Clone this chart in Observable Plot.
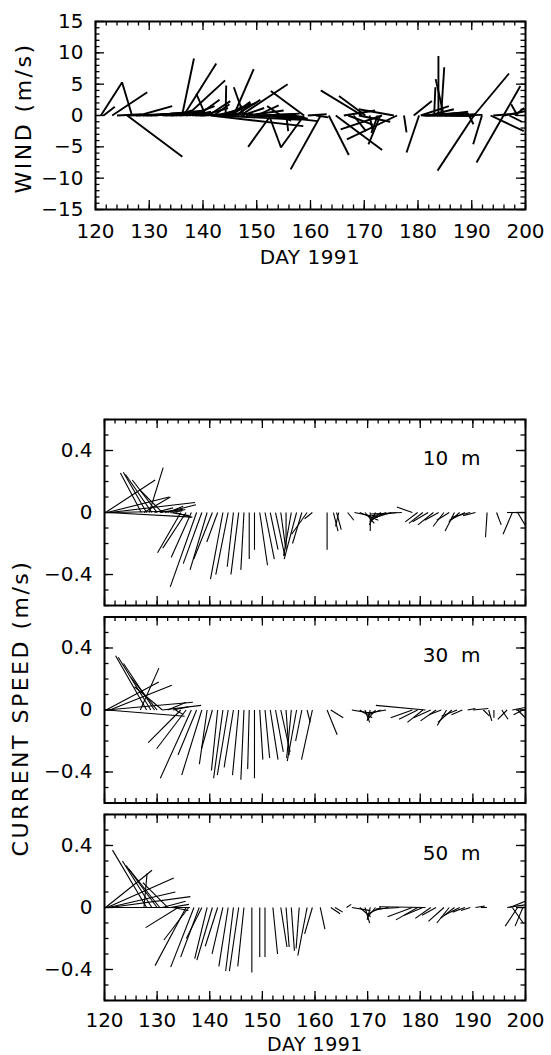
<!DOCTYPE html>
<html><head><meta charset="utf-8">
<script src="https://cdn.jsdelivr.net/npm/d3@7"></script>
<script src="https://cdn.jsdelivr.net/npm/@observablehq/plot@0.6"></script>
<style>
body{margin:0;background:#fff;}
#wrap{position:relative;width:551px;height:1055px;font-family:"DejaVu Sans",sans-serif;color:#000;overflow:hidden;}
#wrap svg{display:block;}
.lbl{position:absolute;white-space:pre;line-height:1;transform:translate(-50%,-50%);}
.rot{transform:translate(-50%,-50%) rotate(-90deg);}
</style></head><body><div id="wrap"></div>
<script>
// ---------- data: [day, u (east, m/s), v (north, m/s)] ----------
const dayDomain = [120, 200];
const dayTicks = [120, 130, 140, 150, 160, 170, 180, 190, 200];
const windDomain = [-15, 15];
const windTicks = [-15, -10, -5, 0, 5, 10, 15];
const currentDomain = [-0.6, 0.6];
const currentTicks = [-0.4, 0, 0.4];
const depths = ["10 m", "30 m", "50 m"];

const windSticks = [
[121.0,3.4,5.3],[121.5,1.8,1.4],[123.1,5.6,3.7],[124.0,4.0,0.2],[125.9,8.8,-6.6],[126.8,-1.6,5.3],
[126.0,4.5,0.1],[127.5,6.0,0.3],[128.1,5.3,1.5],[128.8,6.5,0.2],[129.5,7.0,0.5],[130.2,5.0,0.4],
[131.0,8.0,0.8],[132.5,6.0,0.6],[133.0,4.0,0.1],[134.0,5.0,0.3],[135.0,2.5,0.8],[135.5,3.5,0.2],
[136.1,1.9,9.1],[136.4,5.2,8.3],[136.8,3.0,0.4],[137.0,6.1,5.6],[137.5,4.0,1.5],[138.0,3.0,0.6],
[138.5,5.0,0.1],[139.0,3.5,2.5],[139.5,6.0,0.3],[140.0,4.0,1.2],[140.5,-1.5,3.5],[141.0,3.5,2.3],
[141.4,14.8,-1.7],[142.0,2.5,1.8],[142.5,4.0,1.0],[143.0,13.0,-0.7],[143.5,5.5,2.0],[144.0,4.5,0.3],
[144.2,0.1,4.8],[145.0,2.0,1.5],[145.3,3.0,2.2],[145.7,3.2,7.4],[146.0,4.0,2.5],[146.5,2.0,2.0],
[147.0,7.5,5.0],[147.3,3.5,1.2],[147.6,-1.6,4.5],[148.0,6.0,0.8],[148.5,5.0,-0.2],[149.2,7.0,0.2],
[150.0,3.5,1.6],[150.5,5.0,-0.3],[151.0,6.0,0.3],[151.5,6.0,-0.5],[152.0,8.0,-0.9],[152.3,1.9,-5.1],
[152.6,-3.6,-5.0],[153.0,5.0,-0.3],[153.5,2.5,-0.8],[154.5,-2.2,1.5],[155.0,3.0,-0.2],[155.5,0.3,-2.5],
[156.0,3.0,-0.5],[157.0,2.0,-0.6],[158.8,-5.3,3.9],[158.8,-3.7,-5.1],[159.5,3.0,0.2],
[161.0,2.0,-0.3],[161.9,-4.8,-8.6],[163.4,3.2,-6.3],[164.7,7.4,-5.5],[166.2,5.0,0.8],[167.0,4.0,-1.5],
[168.0,2.0,-2.5],[169.0,5.0,-1.0],[169.6,-6.6,4.0],[170.2,-4.2,3.1],[171.0,0.5,-2.5],[172.5,-1.0,-2.8],
[173.0,-1.9,-4.6],[173.3,-6.6,-2.2],[175.5,-5.6,1.0],[176.1,-8.0,-3.8],[177.4,0.4,-2.7],[179.2,2.9,2.3],
[180.2,-2.0,-5.9],[180.5,4.5,1.5],[180.8,6.0,0.0],[181.2,7.0,0.3],[181.5,5.0,0.4],[182.0,4.0,1.0],
[182.5,6.0,0.2],[183.0,0.2,4.5],[183.5,5.0,0.6],[183.8,0.0,9.5],[184.0,5.0,0.1],[184.3,0.5,7.7],
[184.8,-1.3,5.8],[185.0,6.0,0.1],[186.0,4.0,0.2],[186.5,3.5,0.0],[187.0,3.0,-0.1],[187.5,2.5,0.1],
[188.0,2.0,0.1],[189.5,0.7,-1.4],[190.4,-5.8,-8.8],[190.4,5.6,6.7],[191.9,-1.4,-4.6],
[193.5,5.3,-2.5],[194.0,4.0,0.3],[195.9,2.7,4.7],[195.9,-4.3,-7.5],[196.0,4.0,0.8],[197.0,2.0,-1.0],
[198.0,1.5,1.2],[198.5,-1.0,1.8]
];

const current10m = [
[120.2,0.32,0.21],[120.5,0.40,0.10],[120.5,0.55,-0.03],[121.0,0.55,0.065],[121.5,0.45,0.01],
[127.0,-0.135,0.255],[127.5,0.17,0.10],[128.0,-0.15,0.26],[128.5,0.09,0.29],[129.0,-0.17,0.245],
[129.5,0.12,0.03],[130.0,-0.16,0.21],[130.5,0.15,0.02],[131.0,-0.15,0.15],[131.5,0.20,0.05],
[132.0,0.10,0.04],[132.5,0.12,-0.02],[133.0,0.08,0.02],[133.5,0.10,-0.03],
[134.5,-0.15,-0.26],[135.5,-0.15,-0.23],[136.5,-0.13,-0.29],[137.5,-0.17,-0.48],[138.5,-0.12,-0.33],
[139.5,-0.11,-0.37],[140.5,-0.12,-0.30],[141.5,-0.07,-0.19],[142.5,-0.08,-0.43],[143.5,-0.08,-0.40],
[144.5,-0.04,-0.35],[145.5,-0.05,-0.40],[146.5,-0.02,-0.37],[147.5,0.0,-0.30],[148.5,0.0,-0.24],
[149.5,0.05,-0.34],[150.5,0.06,-0.30],[151.5,0.05,-0.24],[152.5,0.06,-0.28],[153.5,0.03,-0.22],
[154.5,0.0,-0.24],[155.5,-0.05,-0.28],[156.5,-0.08,-0.30],[157.5,-0.06,-0.20],[158.5,-0.10,-0.14],
[159.5,-0.05,-0.04],[162.3,0.0,-0.24],[163.5,0.03,-0.12],[164.1,0.03,-0.11],[164.5,-0.02,-0.09],
[166.2,0.04,-0.05],[167.5,0.15,-0.03],[168.5,0.12,-0.05],[169.5,0.06,-0.07],[170.5,0.0,-0.12],
[171.5,-0.04,-0.08],[172.5,-0.07,-0.06],[173.5,-0.10,-0.05],[174.5,-0.13,-0.04],[175.5,-0.16,-0.02],
[176.5,-0.20,-0.01],[178.5,-0.10,0.035],[179.5,-0.08,-0.06],[180.5,-0.09,-0.07],[181.5,-0.10,-0.06],
[182.5,-0.10,-0.08],[183.5,-0.09,-0.05],[184.5,-0.07,-0.09],[185.5,-0.08,-0.05],[186.5,-0.06,-0.12],
[187.5,-0.07,-0.06],[188.5,-0.10,-0.05],[189.5,-0.12,-0.03],[190.5,-0.08,-0.02],[192.7,-0.01,-0.16],
[194.5,0.03,-0.08],[196.5,0.10,0.0],[197.5,-0.06,-0.14],[198.5,0.06,-0.10]
];

const current30m = [
[120.3,0.34,0.18],[121.0,0.40,0.16],[120.3,0.56,0.05],[120.5,0.50,-0.04],[126.8,0.12,0.27],
[128.0,-0.20,0.35],[128.8,-0.21,0.34],[129.5,-0.20,0.30],[130.0,-0.17,0.21],[131.0,-0.18,0.15],
[131.0,0.25,0.03],[132.0,0.12,0.05],[133.0,0.10,0.02],[133.5,0.05,-0.03],
[134.5,-0.21,-0.21],[135.5,-0.19,-0.25],[136.5,-0.20,-0.44],[137.5,-0.12,-0.29],[138.5,-0.13,-0.42],
[139.5,-0.05,-0.35],[140.5,-0.07,-0.25],[141.5,-0.04,-0.39],[142.5,-0.06,-0.44],[143.5,-0.07,-0.42],
[144.5,-0.06,-0.37],[145.5,-0.04,-0.42],[146.5,-0.02,-0.45],[147.5,-0.01,-0.38],[148.5,0.0,-0.44],
[149.5,0.02,-0.32],[150.5,0.03,-0.31],[151.5,0.05,-0.32],[152.5,0.05,-0.27],[153.5,0.06,-0.27],
[154.5,0.02,-0.29],[155.5,-0.03,-0.31],[156.5,-0.06,-0.33],[157.5,-0.04,-0.20],[158.5,0.02,-0.08],
[159.5,-0.07,-0.32],[162.3,0.065,-0.16],[163.0,0.08,-0.05],[167.0,0.12,-0.02],[168.5,0.08,-0.05],
[169.5,0.03,-0.08],[170.5,-0.02,-0.07],[171.5,-0.05,-0.06],[172.5,-0.08,-0.03],[173.5,-0.12,-0.02],
[178.5,-0.14,-0.05],[179.5,-0.12,-0.06],[180.5,-0.10,-0.08],[181.0,-0.32,0.03],[182.0,-0.11,-0.05],
[183.0,-0.10,-0.07],[184.0,-0.08,-0.03],[185.0,-0.06,-0.10],[186.0,-0.09,-0.08],[187.0,-0.10,-0.04],
[188.0,-0.07,-0.03],[189.0,0.05,0.01],[190.0,0.10,0.01],[192.0,0.04,-0.04],[193.0,0.02,-0.07],
[194.0,0.0,-0.05],[195.5,0.04,-0.06],[196.5,-0.06,-0.06],[197.5,0.10,0.02],[198.5,0.05,-0.05],
[199.5,-0.06,-0.03]
];

const current50m = [
[120.2,0.30,0.24],[120.5,0.43,0.19],[120.8,0.43,0.10],[121.0,0.52,0.07],[121.5,0.50,0.0],
[127.5,0.02,0.22],[128.0,-0.22,0.37],[129.0,-0.19,0.30],[130.0,-0.20,0.27],[130.5,-0.20,0.25],
[132.0,-0.16,0.16],[131.0,0.15,0.04],[132.5,0.12,0.02],[133.0,0.10,-0.02],[134.0,-0.21,-0.13],
[135.5,-0.20,-0.375],[136.0,-0.16,-0.21],[137.0,-0.15,-0.385],[138.0,-0.12,-0.32],[138.5,-0.10,-0.20],
[139.5,-0.08,-0.33],[140.5,-0.10,-0.34],[141.5,-0.08,-0.25],[142.5,-0.07,-0.30],[143.5,-0.06,-0.38],
[144.5,-0.05,-0.41],[145.5,-0.06,-0.41],[146.5,-0.04,-0.38],[148.0,0.0,-0.42],[149.5,0.0,-0.32],
[150.5,0.0,-0.32],[152.0,0.03,-0.30],[153.5,0.04,-0.255],[154.5,0.02,-0.255],[155.5,0.02,-0.28],
[157.0,-0.02,-0.265],[158.5,-0.06,-0.31],[159.5,-0.05,-0.17],[161.0,0.03,-0.14],[163.0,0.06,-0.04],
[163.8,0.05,-0.03],[166.0,0.03,0.02],[167.0,0.12,-0.02],[168.5,0.07,-0.06],[169.5,0.03,-0.10],
[170.5,-0.02,-0.08],[171.5,-0.05,-0.06],[172.5,-0.08,-0.04],[174.0,-0.10,-0.02],[176.0,-0.15,-0.01],
[178.5,-0.16,-0.06],[179.5,-0.14,-0.08],[180.5,-0.12,-0.05],[181.0,-0.30,0.005],[182.0,-0.10,-0.07],
[183.0,-0.09,-0.05],[184.5,-0.10,-0.09],[185.5,-0.08,-0.10],[186.5,-0.09,-0.07],[187.5,-0.10,-0.05],
[188.5,-0.08,-0.03],[189.5,-0.06,-0.02],[190.5,0.06,0.01],[191.5,0.04,0.0],[196.5,0.14,0.02],
[197.0,0.10,0.04],[197.5,0.07,-0.10],[198.5,-0.08,-0.12],[199.5,-0.05,-0.12]
];

// ---------- layout ----------
const W = 551;
const FONT = "DejaVu Sans, sans-serif";
const fmt = d => d < 0 ? "\u2212" + Math.abs(d) : String(d);
const range = (a, b, s) => d3.range(a, b + s / 2, s).map(v => +v.toFixed(6));

function frameTicks(pw, ph, xMinor, xMajor, yMinor, yMajor) {
  const st = {stroke: "black", strokeWidth: 1.3};
  const out = [];
  for (const [arr, len] of [[xMinor, 4.5], [xMajor, 9]]) {
    out.push(Plot.tickX(arr, {x: d => d, insetBottom: ph - len, ...st}));
    out.push(Plot.tickX(arr, {x: d => d, insetTop: ph - len, ...st}));
  }
  for (const [arr, len] of [[yMinor, 4.5], [yMajor, 9]]) {
    out.push(Plot.tickY(arr, {y: d => d, insetRight: pw - len, ...st}));
    out.push(Plot.tickY(arr, {y: d => d, insetLeft: pw - len, ...st}));
  }
  return out;
}

const wrap = document.getElementById("wrap");

// ---------- wind panel ----------
const T = {h: 300, mt: 21, mb: 91, ml: 95, mr: 26};
const tPW = W - T.ml - T.mr, tPH = T.h - T.mt - T.mb;
const kWind = (tPH / (windDomain[1] - windDomain[0])) / (tPW / (dayDomain[1] - dayDomain[0]));

const windPlot = Plot.plot({
  width: W, height: T.h,
  marginTop: T.mt, marginBottom: T.mb, marginLeft: T.ml, marginRight: T.mr,
  style: {fontFamily: FONT, fontSize: "20px", color: "black", background: "white"},
  x: {domain: dayDomain, axis: null},
  y: {domain: windDomain, axis: null},
  marks: [
    Plot.link(windSticks, {x1: d => d[0], y1: () => 0, x2: d => d[0] + d[1] * kWind, y2: d => d[2],
      stroke: "black", strokeWidth: 1.9, clip: true}),
    ...frameTicks(tPW, tPH, range(120, 200, 2), dayTicks, range(-15, 15, 1), windTicks),
    Plot.frame({stroke: "black", strokeWidth: 2}),
    Plot.axisX({ticks: dayTicks, tickSize: 0, tickPadding: 14, fontSize: 20, tickFormat: fmt, label: null}),
    Plot.axisY({ticks: windTicks, tickSize: 0, tickPadding: 12, fontSize: 20, tickFormat: fmt, label: null})
  ]
});
wrap.appendChild(windPlot);

// ---------- current panels ----------
const B = {h: 755, mt: 119, mb: 55, ml: 104, mr: 26};
const bPW = W - B.ml - B.mr;
const span = B.h - B.mt - B.mb;
const padInner = 0.058;
const bandH = span / (depths.length - padInner) * (1 - padInner);
const kCur = (bandH / (currentDomain[1] - currentDomain[0])) / (bPW / (dayDomain[1] - dayDomain[0]));

const currentRows = [
  ...current10m.map(d => ({depth: depths[0], day: d[0], u: d[1], v: d[2]})),
  ...current30m.map(d => ({depth: depths[1], day: d[0], u: d[1], v: d[2]})),
  ...current50m.map(d => ({depth: depths[2], day: d[0], u: d[1], v: d[2]}))
];

const curPlot = Plot.plot({
  width: W, height: B.h,
  marginTop: B.mt, marginBottom: B.mb, marginLeft: B.ml, marginRight: B.mr,
  style: {fontFamily: FONT, fontSize: "20px", color: "black", background: "white"},
  x: {domain: dayDomain, axis: null},
  y: {domain: currentDomain, axis: null},
  fy: {domain: depths, axis: null, paddingInner: padInner, paddingOuter: 0, round: false},
  marks: [
    Plot.link(currentRows, {fy: "depth", x1: "day", y1: () => 0, x2: d => d.day + d.u * kCur, y2: "v",
      stroke: "black", strokeWidth: 1.1, clip: true}),
    ...frameTicks(bPW, bandH, range(120, 200, 2), dayTicks, range(-0.6, 0.6, 0.1), currentTicks),
    Plot.frame({stroke: "black", strokeWidth: 2}),
    Plot.text(depths, {fy: d => d, text: d => d.replace(" ", "\u00a0\u00a0"), frameAnchor: "top-right",
      textAnchor: "end", lineAnchor: "top", dx: -45, dy: 31, fontSize: 20}),
    Plot.axisX({ticks: dayTicks, tickSize: 0, tickPadding: 12, fontSize: 20, tickFormat: fmt, label: null}),
    Plot.axisY({ticks: currentTicks, tickSize: 0, tickPadding: 12, fontSize: 20, tickFormat: fmt, label: null})
  ]
});
wrap.appendChild(curPlot);

// ---------- axis titles ----------
function addLabel(text, x, y, size, spacing, rotate) {
  const el = document.createElement("div");
  el.className = "lbl" + (rotate ? " rot" : "");
  el.textContent = text;
  el.style.left = x + "px"; el.style.top = y + "px";
  el.style.fontSize = size + "px"; el.style.letterSpacing = spacing + "px";
  wrap.appendChild(el);
}
addLabel("WIND (m/s)", 24, 118, 22, 2.5, true);
addLabel("DAY 1991", 310, 257, 20, 0.5, false);
addLabel("CURRENT SPEED (m/s)", 21, 708, 22, 2.5, true);
addLabel("DAY 1991", 315, 1044, 19, 0.5, false);
</script></body></html>
